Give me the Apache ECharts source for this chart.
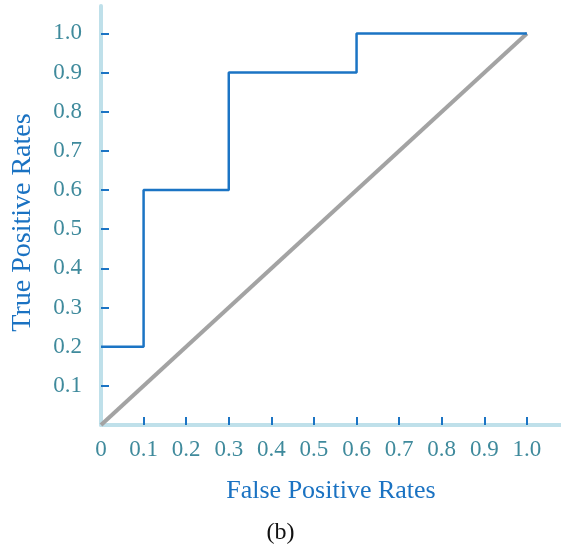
<!DOCTYPE html>
<html>
<head>
<meta charset="utf-8">
<script src="https://cdn.jsdelivr.net/npm/echarts@6/dist/echarts.min.js"></script>
<style>html,body{margin:0;padding:0;background:#fff}#c{width:561px;height:545px}</style>
</head>
<body>
<div id="c"></div>
<script>
const rocX = [0, 0.1, 0.1, 0.3, 0.3, 0.6, 0.6, 1.0];
const rocY = [0.2, 0.2, 0.6, 0.6, 0.9, 0.9, 1.0, 1.0];
const diagX = [0, 1.0];
const diagY = [0, 1.0];
const xTickValues = [0.1, 0.2, 0.3, 0.4, 0.5, 0.6, 0.7, 0.8, 0.9, 1.0];
const xLabelValues = [0, 0.1, 0.2, 0.3, 0.4, 0.5, 0.6, 0.7, 0.8, 0.9, 1.0];
const yTickValues = [0.1, 0.2, 0.3, 0.4, 0.5, 0.6, 0.7, 0.8, 0.9, 1.0];
const yLabelValues = [0.1, 0.2, 0.3, 0.4, 0.5, 0.6, 0.7, 0.8, 0.9, 1.0];
const xName = 'False Positive Rates';
const yName = 'True Positive Rates';
const caption = '(b)';

const fmt = v => (v === 0 ? '0' : Number(v).toFixed(1));
const font = '"Liberation Serif", "Times New Roman", serif';
const labelColor = '#3f8a9c';
const nameColor = '#1a72c2';
const axisLineStyle = { color: '#bfe0ea', width: 4 };
const tickStyle = { color: '#1b74c4', width: 2 };

const chart = echarts.init(document.getElementById('c'), null, { renderer: 'canvas' });
chart.setOption({
  animation: false,
  backgroundColor: '#fff',
  title: {
    text: caption, left: 'center', top: 516,
    textStyle: { fontFamily: font, fontSize: 24, fontWeight: 'normal', color: '#111' }
  },
  grid: { left: 101, right: 0, top: 6, bottom: 120, containLabel: false, outerBoundsMode: 'none' },
  xAxis: {
    type: 'value', min: 0, max: 1.08,
    splitLine: { show: false },
    axisLine: { lineStyle: axisLineStyle },
    axisTick: { show: true, inside: true, length: 8, lineStyle: tickStyle, customValues: xTickValues },
    axisLabel: {
      customValues: xLabelValues, formatter: fmt, margin: 13,
      fontFamily: font, fontSize: 23, color: labelColor
    },
    name: xName, nameLocation: 'middle', nameGap: 53,
    nameTextStyle: { fontFamily: font, fontSize: 26, color: nameColor }
  },
  yAxis: {
    type: 'value', min: 0, max: 1.07,
    splitLine: { show: false },
    axisLine: { lineStyle: axisLineStyle },
    axisTick: { show: true, inside: true, length: 8, lineStyle: tickStyle, customValues: yTickValues },
    axisLabel: {
      customValues: yLabelValues, formatter: fmt, margin: 19,
      fontFamily: font, fontSize: 23, color: labelColor
    },
    name: yName, nameLocation: 'middle', nameGap: 64, nameRotate: 90,
    nameTextStyle: { fontFamily: font, fontSize: 28, color: nameColor, padding: [0, 14, 0, 0] }
  },
  series: [
    {
      type: 'line', data: diagX.map((x, i) => [x, diagY[i]]),
      symbol: 'none', lineStyle: { color: '#a3a3a3', width: 4 }, z: 3
    },
    {
      type: 'line', data: rocX.map((x, i) => [x, rocY[i]]),
      symbol: 'none', lineStyle: { color: '#1b74c4', width: 2.5 }, z: 4
    }
  ]
});
</script>
</body>
</html>
